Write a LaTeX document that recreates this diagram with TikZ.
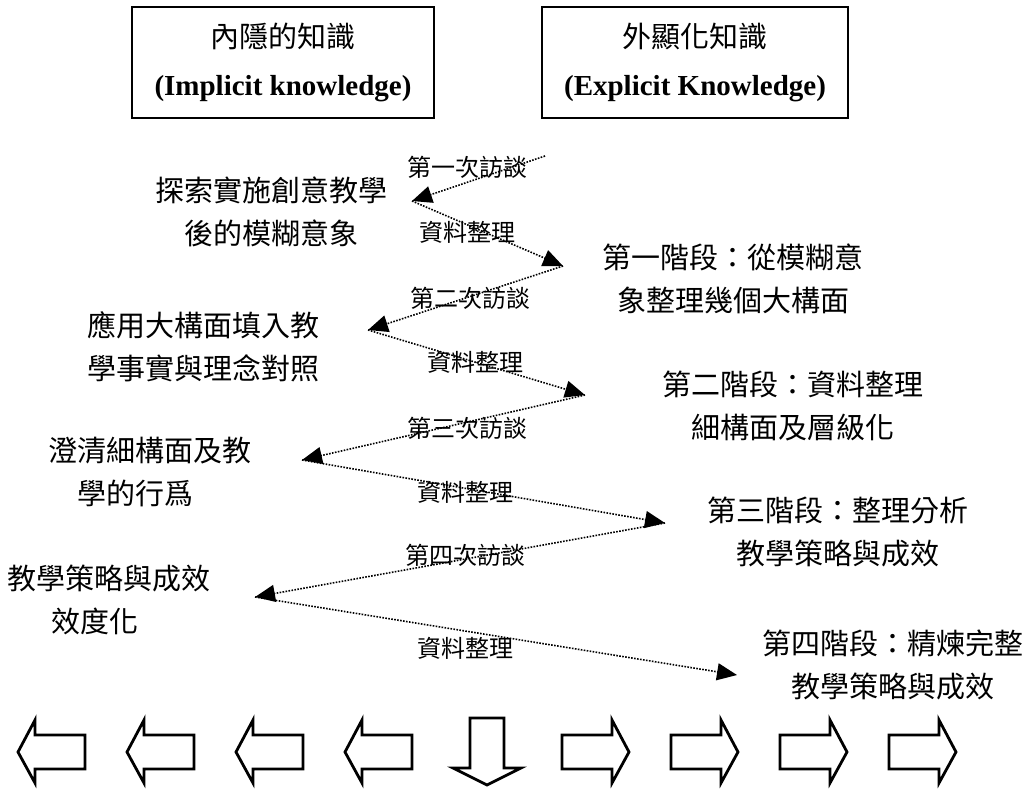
\documentclass[tikz,border=0pt]{standalone}
\usepackage{fontspec}
\setmainfont{Liberation Serif}
\newfontfamily\cjk{Noto Sans CJK TC}
\usetikzlibrary{arrows.meta}

\begin{document}
\begin{tikzpicture}[x=0.5pt,y=-0.5pt,
    leftnote/.style={font=\cjk\fontsize{14.5pt}{21.5pt}\selectfont,align=center,inner sep=0pt},
    rightnote/.style={leftnote},
    steplabel/.style={font=\cjk\fontsize{12pt}{14pt}\selectfont,inner sep=0pt},
    talk/.style={line width=0.8pt,dash pattern=on 0.8pt off 0.7pt,-{Triangle[length=10pt,width=8.5pt]}},
    blockarrow/.style={line width=1.4pt,line join=miter}]
    \useasboundingbox (0,0) rectangle (1027,788);

    % Riquadri in alto
    \node[draw,line width=1pt,minimum width=151pt,minimum height=55.5pt,align=center,font=\fontsize{14.5pt}{24pt}\selectfont] (implicit) at (283,62.5) {{\cjk 內隱的知識}\\\textbf{(Implicit knowledge)}};
    \node[draw,line width=1pt,minimum width=153pt,minimum height=55.5pt,align=center,font=\fontsize{14.5pt}{24pt}\selectfont] (explicit) at (695,62.5) {{\cjk 外顯化知識}\\\textbf{(Explicit Knowledge)}};

    % Testi a sinistra
    \node[leftnote] (ideaA) at (271,212) {探索實施創意教學\\後的模糊意象};
    \node[leftnote] (ideaB) at (203,347) {應用大構面填入教\\學事實與理念對照};
    \node[leftnote] (ideaC) at (150,472) {澄清細構面及教\\學的行爲\hspace*{1em}};
    \node[leftnote] (ideaD) at (109,600) {教學策略與成效\\效度化\hspace*{1em}};

    % Testi a destra
    \node[rightnote] (stageA) at (733,279) {第一階段：從模糊意\\象整理幾個大構面};
    \node[rightnote] (stageB) at (793,406) {第二階段：資料整理\\細構面及層級化};
    \node[rightnote] (stageC) at (838,532) {第三階段：整理分析\\教學策略與成效};
    \node[rightnote] (stageD) at (893,665) {第四階段：精煉完整\\教學策略與成效};

    % Etichette
    \node[steplabel] (talkA) at (467,167) {第一次訪談};
    \node[steplabel] (sortA) at (467,232) {資料整理};
    \node[steplabel] (talkB) at (470,298) {第二次訪談};
    \node[steplabel] (sortB) at (475,362) {資料整理};
    \node[steplabel] (talkC) at (467,428) {第三次訪談};
    \node[steplabel] (sortC) at (465,492) {資料整理};
    \node[steplabel] (talkD) at (465,555) {第四次訪談};
    \node[steplabel] (sortD) at (465,648) {資料整理};

    % Zig-zag
    \coordinate (z0) at (545,156);
    \coordinate (z1) at (412,201);
    \coordinate (z2) at (563,266);
    \coordinate (z3) at (368,330);
    \coordinate (z4) at (585,395);
    \coordinate (z5) at (302,460);
    \coordinate (z6) at (665,523);
    \coordinate (z7) at (255,597);
    \coordinate (z8) at (737,675);
    \foreach \a/\b in {z0/z1,z1/z2,z2/z3,z3/z4,z4/z5,z5/z6,z6/z7,z7/z8}
        \draw[talk] (\a) -- (\b);

    % Frecce in basso
    \foreach \t in {18,127,236,345}
        \draw[blockarrow] (\t,752) -- ++(17,-32) -- ++(0,15) -- ++(50,0) -- ++(0,34) -- ++(-50,0) -- ++(0,14) -- cycle;
    \draw[blockarrow] (470,718) -- (504,718) -- (504,768) -- (521,768) -- (487,785) -- (453,768) -- (470,768) -- cycle;
    \foreach \s in {562,671,780,889}
        \draw[blockarrow] (\s,735) -- ++(50,0) -- ++(0,-15) -- ++(17,32) -- ++(-17,31) -- ++(0,-14) -- ++(-50,0) -- cycle;
\end{tikzpicture}
\end{document}
